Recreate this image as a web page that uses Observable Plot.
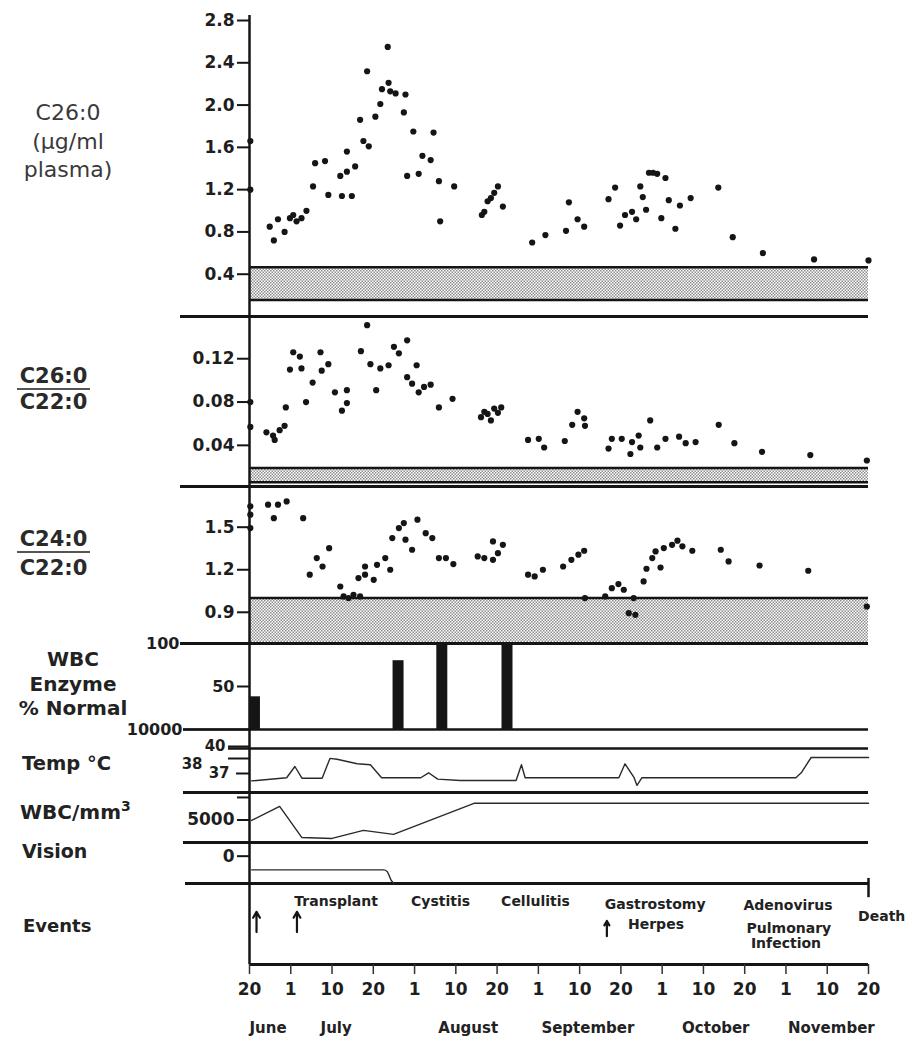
<!DOCTYPE html>
<html>
<head>
<meta charset="utf-8">
<script src="https://cdn.jsdelivr.net/npm/d3@7"></script>
<script src="https://cdn.jsdelivr.net/npm/@observablehq/plot@0.6"></script>
<style>
  body { margin: 0; background: #fff; }
  #chart { position: relative; width: 913px; height: 1047px; overflow: hidden; background: #fff; }
  .panel { position: absolute; left: 0; width: 913px; }
  .panel svg { overflow: visible; display: block; }
  .lab { position: absolute; font-family: "DejaVu Sans", sans-serif; color: #222; white-space: nowrap; }
  .frac { position: absolute; font-family: "DejaVu Sans", sans-serif; font-weight: bold; font-size: 21px; color: #2a2a2a; text-align: center; }
  .frac .num { height: 22px; line-height: 22px; padding-bottom: 1px; border-bottom: 2.5px solid #555; }
  .frac .den { line-height: 22px; }
</style>
</head>
<body>
<svg width="0" height="0" style="position:absolute">
  <defs>
    <pattern id="stipple" width="3" height="3" patternUnits="userSpaceOnUse">
      <rect width="3" height="3" fill="#fff"/>
      <rect width="1.5" height="1.5" fill="#8e8e8e"/>
      <rect x="1.5" y="1.5" width="1.5" height="1.5" fill="#8e8e8e"/>
    </pattern>
  </defs>
</svg>
<div id="chart">
  <div class="lab" style="left:0;width:136px;top:99px;font-size:22px;line-height:28.5px;text-align:center;color:#3a3a3a;">C26:0<br>(µg/ml<br>plasma)</div>
  <div class="frac" style="left:17px;width:73px;top:365px;"><div class="num">C26:0</div><div class="den" style="margin-top:1px">C22:0</div></div>
  <div class="frac" style="left:17px;width:73px;top:528px;"><div class="num">C24:0</div><div class="den" style="margin-top:3.5px">C22:0</div></div>
  <div class="lab" style="left:0;width:146px;top:647px;font-size:20px;line-height:24.5px;font-weight:bold;text-align:center;">WBC<br>Enzyme<br>% Normal</div>
  <div class="lab" style="left:22px;top:754px;font-size:19.5px;line-height:20px;font-weight:bold;">Temp °C</div>
  <div class="lab" style="left:20px;top:796px;font-size:20px;line-height:20px;font-weight:bold;">WBC/mm<sup style="font-size:14px">3</sup></div>
  <div class="lab" style="left:22px;top:841px;font-size:19px;line-height:20px;font-weight:bold;">Vision</div>
  <div class="lab" style="left:23px;top:916px;font-size:18px;line-height:20px;font-weight:bold;">Events</div>
</div>
<script>
// ---------- DATA (x = position on the evenly spaced date axis, in tick steps from 20 June) ----------
const xTickLabels = ["20","1","10","20","1","10","20","1","10","20","1","10","20","1","10","20"];
const months = ["June","July","August","September","October","November"];
const monthPos = [0.45, 2.1, 5.3, 8.2, 11.3, 14.1];

// C26:0 (µg/ml plasma)
const c26Ticks = [0.4, 0.8, 1.2, 1.6, 2.0, 2.4, 2.8];
const c26Normal = [0.155, 0.465];
const c26 = [[0.02,1.66],[0.02,1.20],[0.49,0.85],[0.59,0.72],[0.69,0.92],[0.85,0.80],[0.98,0.93],[1.06,0.96],[1.14,0.90],[1.26,0.93],[1.38,1.00],[1.54,1.23],[1.59,1.45],[1.83,1.47],[1.91,1.15],[2.20,1.33],[2.24,1.14],[2.36,1.37],[2.36,1.56],[2.48,1.14],[2.56,1.42],[2.68,1.86],[2.76,1.66],[2.85,2.32],[2.89,1.61],[3.05,1.89],[3.17,2.01],[3.21,2.15],[3.35,2.55],[3.37,2.21],[3.41,2.13],[3.54,2.11],[3.74,1.93],[3.78,2.10],[3.82,1.33],[3.97,1.75],[4.10,1.35],[4.19,1.52],[4.39,1.48],[4.46,1.74],[4.59,1.28],[4.62,0.90],[4.96,1.23],[5.63,0.96],[5.69,0.99],[5.77,1.09],[5.85,1.12],[5.93,1.17],[6.02,1.23],[6.14,1.04],[6.85,0.70],[7.17,0.77],[7.67,0.81],[7.74,1.08],[7.95,0.92],[8.11,0.85],[8.70,1.11],[8.86,1.22],[8.98,0.86],[9.10,0.96],[9.27,0.99],[9.37,0.92],[9.47,1.23],[9.53,1.13],[9.61,1.01],[9.68,1.36],[9.78,1.36],[9.88,1.35],[9.98,0.93],[10.08,1.31],[10.16,1.10],[10.32,0.83],[10.43,1.05],[10.69,1.12],[11.36,1.22],[11.71,0.75],[12.44,0.60],[13.68,0.54],[15.0,0.53]];

// C26:0 / C22:0
const r26Ticks = [0.04, 0.08, 0.12];
const r26Normal = [0.006, 0.019];
const r26 = [[0.02,0.080],[0.02,0.057],[0.41,0.052],[0.57,0.049],[0.61,0.045],[0.73,0.054],[0.85,0.058],[0.88,0.075],[0.98,0.110],[1.06,0.126],[1.22,0.122],[1.26,0.111],[1.37,0.080],[1.53,0.098],[1.72,0.126],[1.75,0.109],[1.91,0.115],[2.07,0.089],[2.24,0.072],[2.36,0.091],[2.36,0.079],[2.70,0.127],[2.85,0.151],[2.93,0.115],[3.07,0.091],[3.17,0.111],[3.37,0.114],[3.50,0.131],[3.62,0.125],[3.82,0.137],[3.82,0.103],[3.94,0.097],[4.05,0.114],[4.10,0.089],[4.23,0.094],[4.39,0.096],[4.59,0.075],[4.92,0.083],[5.61,0.066],[5.69,0.071],[5.77,0.069],[5.85,0.063],[5.93,0.074],[6.02,0.070],[6.10,0.075],[6.75,0.045],[7.01,0.046],[7.14,0.038],[7.64,0.044],[7.82,0.059],[7.95,0.071],[8.11,0.065],[8.13,0.058],[8.70,0.037],[8.78,0.046],[9.02,0.046],[9.23,0.032],[9.27,0.043],[9.43,0.049],[9.47,0.038],[9.71,0.063],[9.88,0.038],[10.08,0.046],[10.41,0.048],[10.57,0.042],[10.81,0.043],[11.37,0.059],[11.75,0.042],[12.42,0.034],[13.59,0.031],[14.96,0.026]];

// C24:0 / C22:0
const r24Ticks = [0.9, 1.2, 1.5];
const r24Normal = [0.687, 1.0];
const r24 = [[0.02,1.647],[0.02,1.588],[0.02,1.494],[0.45,1.659],[0.59,1.564],[0.69,1.659],[0.90,1.682],[1.30,1.564],[1.46,1.165],[1.63,1.282],[1.77,1.223],[1.93,1.352],[2.20,1.082],[2.28,1.012],[2.40,1.000],[2.52,1.023],[2.64,1.141],[2.68,1.012],[2.80,1.165],[2.80,1.223],[3.01,1.129],[3.09,1.235],[3.29,1.282],[3.41,1.200],[3.46,1.423],[3.62,1.494],[3.74,1.529],[3.78,1.412],[3.94,1.341],[4.07,1.553],[4.27,1.458],[4.43,1.423],[4.59,1.282],[4.76,1.282],[4.94,1.240],[5.53,1.294],[5.69,1.282],[5.90,1.270],[5.90,1.400],[6.02,1.317],[6.14,1.376],[6.75,1.165],[6.91,1.153],[7.11,1.200],[7.60,1.223],[7.80,1.270],[7.97,1.306],[8.11,1.334],[8.13,1.000],[8.62,1.012],[8.78,1.070],[8.94,1.099],[9.07,1.059],[9.19,0.894],[9.31,1.000],[9.35,0.882],[9.55,1.118],[9.62,1.207],[9.76,1.282],[9.84,1.329],[9.96,1.216],[10.04,1.353],[10.24,1.376],[10.37,1.405],[10.49,1.365],[10.73,1.334],[11.42,1.341],[11.61,1.259],[12.36,1.230],[13.54,1.193],[14.96,0.941]];

// WBC enzyme, % of normal
const enzymeTicks = [100, 50, 0];
const enzymeTickText = ["100", "50", "10000"];
const enzyme = [[0.12, 38], [3.6, 80], [4.66, 100], [6.24, 100]];

// Temperature, °C
const tempTicks = [40, 37];
const temp = [[0.05,36.4],[0.9,36.75],[1.1,38.0],[1.27,36.7],[1.76,36.7],[1.95,38.9],[2.12,38.8],[2.61,38.3],[2.93,38.2],[3.2,36.75],[4.15,36.75],[4.34,37.3],[4.56,36.6],[5.1,36.45],[6.46,36.45],[6.59,38.2],[6.68,36.75],[8.95,36.75],[9.1,38.3],[9.32,36.75],[9.39,35.9],[9.51,36.75],[13.24,36.75],[13.37,37.3],[13.61,39.0],[15.0,39.0]];

// WBC / mm3
const wbcTicks = [10000, 5000];
const wbc = [[0.05,4900],[0.73,8000],[1.27,1100],[2.0,900],[2.76,2700],[3.49,1800],[5.44,8700],[15.0,8700]];

// Vision
const visionTicks = [0];
const vision = [[0.05,-1],[3.25,-1],[3.33,-1.1],[3.44,-1.8],[3.5,-2]];

// Events
const eventLabels = ["Transplant","Cystitis","Cellulitis","Gastrostomy","Herpes","Adenovirus","Pulmonary","Infection","Death"];
const eventX = [2.1, 4.63, 6.93, 9.83, 9.85, 13.05, 13.07, 13.0, 15.32];
const eventRow = [0.9, 0.9, 0.9, 1.05, 2.05, 1.1, 2.2, 2.95, 1.65];
const arrowX = [0.17, 1.15, 8.66];
const arrowTop = [1.4, 1.4, 1.85];
const arrowBottom = [2.4, 2.4, 2.6];

// ---------- BUILD ----------
const W = 913, ML = 249, MR = 45;
const INK = "#151515";
const chart = document.getElementById("chart");
const pts = (pairs) => pairs.map(([t, v]) => ({t, v}));
const baseStyle = {overflow: "visible", background: "transparent", fontFamily: "'DejaVu Sans', sans-serif", fontWeight: "bold", fontSize: "17px", color: "#1e1e1e"};

function panel(top, opts) {
  const {xAxis = false, ...rest} = opts;
  const svg = Plot.plot({
    width: W, marginLeft: ML, marginRight: MR, marginTop: 0, marginBottom: 0,
    style: baseStyle,
    ...rest,
    x: xAxis ? {domain: [0, 15]} : {domain: [0, 15], axis: null},
  });
  const div = document.createElement("div");
  div.className = "panel";
  div.style.top = top + "px";
  div.appendChild(svg);
  chart.appendChild(div);
}

function band(norm) {
  return [
    Plot.rect([norm], {x1: 0, x2: 15, y1: d => d[0], y2: d => d[1], fill: "url(#stipple)"}),
    Plot.ruleY(norm, {stroke: INK, strokeWidth: 2.5})
  ];
}
const yAxis = (ticks, fmt, extra = {}) => Plot.axisY({ticks, tickFormat: fmt, tickSize: 12, tickPadding: 3, strokeWidth: 2, stroke: INK, label: null, ...extra});
const axisLine = (extra = {}) => Plot.ruleX([0], {stroke: INK, strokeWidth: 2.5, ...extra});
const dots = (data) => Plot.dot(pts(data), {x: "t", y: "v", r: 3.1, fill: INK, stroke: "none"});

// Panel 1: C26:0
panel(0, {
  height: 316, marginTop: 20,
  y: {domain: [0, 2.8]},
  marks: [
    ...band(c26Normal),
    Plot.ruleY([0], {insetLeft: -69, stroke: INK, strokeWidth: 3}),
    axisLine({insetTop: -5}),
    yAxis(c26Ticks, d3.format(".1f")),
    dots(c26)
  ]
});

// Panel 2: C26:0 / C22:0
panel(316, {
  height: 170,
  y: {domain: [0.002, 0.159]},
  marks: [
    ...band(r26Normal),
    Plot.ruleY([0.002], {insetLeft: -69, stroke: INK, strokeWidth: 3}),
    axisLine(),
    yAxis(r26Ticks, d3.format(".2f")),
    dots(r26)
  ]
});

// Panel 3: C24:0 / C22:0
panel(486, {
  height: 156,
  y: {domain: [0.687, 1.787]},
  marks: [
    Plot.rect([r24Normal], {x1: 0, x2: 15, y1: d => d[0], y2: d => d[1], fill: "url(#stipple)"}),
    Plot.ruleY([r24Normal[1]], {stroke: INK, strokeWidth: 2.5}),
    axisLine(),
    yAxis(r24Ticks, d3.format(".1f")),
    dots(r24)
  ]
});

// Panel 4: WBC enzyme % normal
const enzFmt = d => enzymeTickText[enzymeTicks.indexOf(d)];
panel(643, {
  height: 86,
  y: {domain: [0, 100]},
  marks: [
    Plot.ruleY([100], {insetLeft: -69, stroke: INK, strokeWidth: 3}),
    Plot.ruleY([0], {insetLeft: -66, stroke: INK, strokeWidth: 2.5}),
    axisLine({insetBottom: -19}),
    yAxis([100], enzFmt, {tickSize: 69, tickPadding: 1, fontSize: 16}),
    yAxis([50], enzFmt, {fontSize: 16}),
    yAxis([0], enzFmt, {tickSize: 66, tickPadding: 1, fontSize: 16}),
    Plot.ruleX(pts(enzyme), {x: "t", y1: 0, y2: "v", stroke: INK, strokeWidth: 11})
  ]
});

// Panel 5: Temperature
panel(729, {
  height: 63, marginTop: 19,
  y: {domain: [35.11, 40]},
  marks: [
    Plot.ruleY([40], {insetLeft: -21, stroke: INK, strokeWidth: 2.5}),
    Plot.ruleY([40], {x1: 0, x2: 0, insetLeft: -21, dy: 10, stroke: INK, strokeWidth: 2}),
    Plot.text(["38"], {frameAnchor: "top-left", dx: -47, dy: 10, textAnchor: "end", fontSize: 15}),
    axisLine(),
    yAxis([40], d3.format("d"), {tickSize: 21, tickPadding: 3, fontSize: 15, dy: -2}),
    yAxis([37], d3.format("d"), {tickSize: 13, tickPadding: 7, fontSize: 15, dy: -2}),
    Plot.line(pts(temp), {x: "t", y: "v", stroke: "#2a2a2a", strokeWidth: 1.4})
  ]
});

// Panel 6: WBC / mm3
panel(792, {
  height: 50,
  y: {domain: [0, 11100]},
  marks: [
    Plot.ruleY([11100], {insetLeft: -66, stroke: INK, strokeWidth: 3}),
    Plot.ruleY([0], {insetLeft: -66, stroke: INK, strokeWidth: 3}),
    axisLine(),
    yAxis(wbcTicks, d => d === 5000 ? "5000" : ""),
    Plot.line(pts(wbc), {x: "t", y: "v", stroke: "#2a2a2a", strokeWidth: 1.4})
  ]
});

// Panel 7: Vision
panel(842, {
  height: 41,
  y: {domain: [-2, 1]},
  marks: [
    Plot.ruleY([-2], {insetLeft: -64, stroke: INK, strokeWidth: 3}),
    axisLine(),
    yAxis(visionTicks, d3.format("d")),
    Plot.line(pts(vision), {x: "t", y: "v", stroke: "#2a2a2a", strokeWidth: 1.4, curve: "monotone-x"})
  ]
});

// Panel 8: Events + date axis
const events = eventLabels.map((label, i) => ({label, t: eventX[i], row: eventRow[i]}));
const arrows = arrowX.map((t, i) => ({t, top: arrowTop[i], bottom: arrowBottom[i]}));
panel(883, {
  xAxis: true,
  height: 164, marginBottom: 83,
  y: {domain: [0, 4], reverse: true, axis: null},
  marks: [
    axisLine(),
    Plot.ruleY([4], {stroke: INK, strokeWidth: 3}),
    Plot.ruleX([15], {y1: -0.25, y2: 0.7, stroke: INK, strokeWidth: 2.5}),
    Plot.arrow(arrows, {x: "t", y1: "bottom", y2: "top", stroke: INK, strokeWidth: 2.2, headLength: 7}),
    Plot.text(events, {x: "t", y: "row", text: "label", fontSize: 14, fill: "#222"}),
    Plot.axisX({ticks: d3.range(16), tickFormat: i => xTickLabels[i], tickSize: 10, tickPadding: 8, fontSize: 17, stroke: "#333", strokeWidth: 1.5, label: null}),
    Plot.text(months, {x: (d, i) => monthPos[i], text: d => d, frameAnchor: "bottom", dy: 68, fontSize: 15, fill: "#222"})
  ]
});
</script>
</body>
</html>
